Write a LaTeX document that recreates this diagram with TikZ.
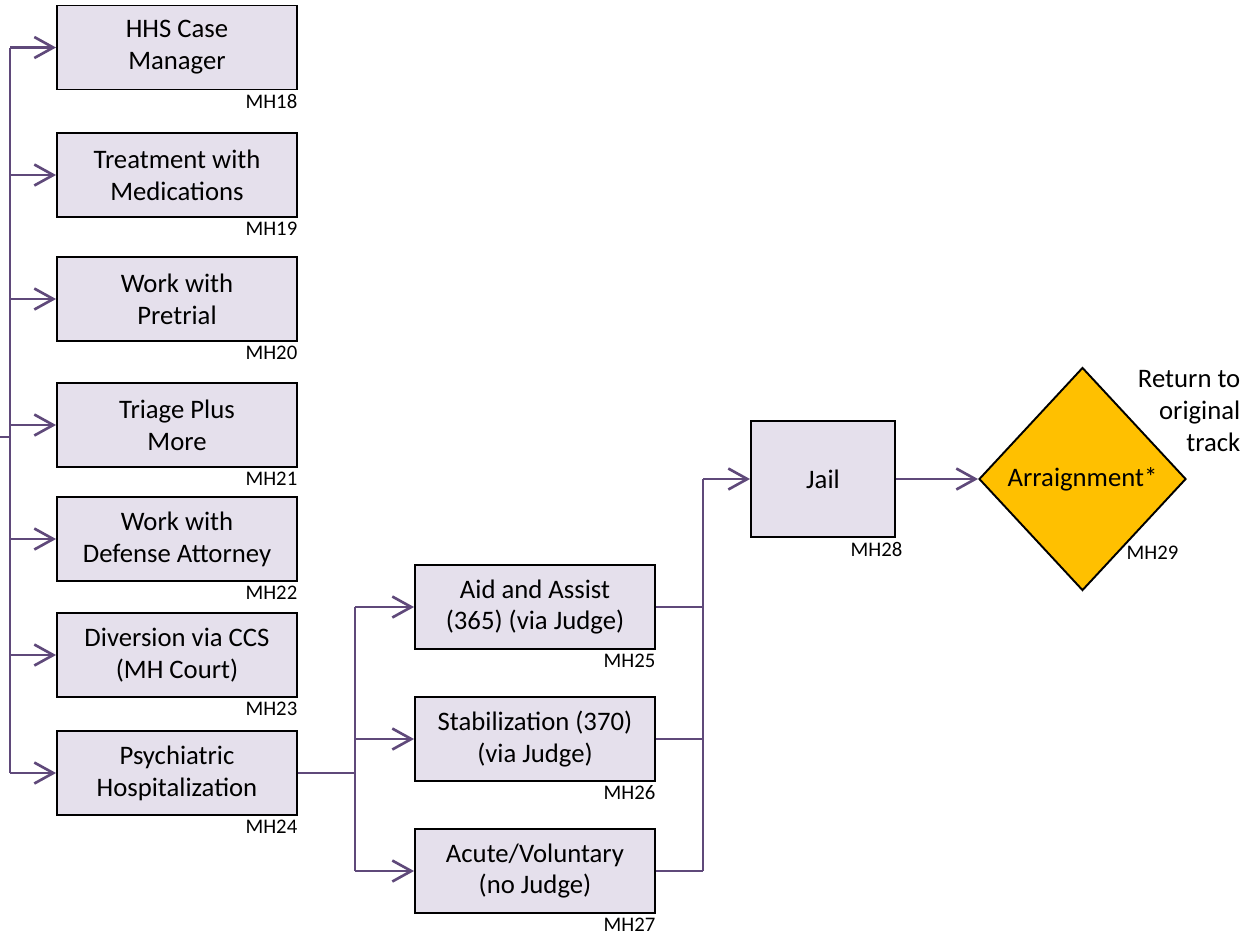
\documentclass[tikz,border=0pt]{standalone}
\usepackage{fontspec}
\setmainfont{Carlito}
\usetikzlibrary{arrows.meta,shapes.geometric}

\definecolor{flowpurple}{HTML}{5F497A}
\definecolor{boxfill}{HTML}{E5E0EC}
\definecolor{gold}{HTML}{FFC000}

\tikzset{
  stepbox/.style={draw=black,line width=0.55pt,fill=boxfill,minimum width=2.40cm,
    minimum height=0.84cm,align=center,inner sep=0pt,
    font=\fontsize{7.6}{9.1}\selectfont},
  tag/.style={anchor=north east,inner sep=0pt,font=\fontsize{5.9}{6.5}\selectfont},
  line/.style={draw=flowpurple,line width=0.75pt},
  flow/.style={line,-{Straight Barb[length=0.19cm,width=0.21cm,line width=0.75pt]}},
}

\begin{document}
\begin{tikzpicture}
  \useasboundingbox (0,0) rectangle (12.44,-9.37);

  %left column
  \node[stepbox] (hhs)       at (1.77,-0.475) {HHS Case\\Manager};
  \node[stepbox] (meds)      at (1.77,-1.75)  {Treatment with\\Medications};
  \node[stepbox] (pretrial)  at (1.77,-2.99)  {Work with\\Pretrial};
  \node[stepbox] (triage)    at (1.77,-4.25)  {Triage Plus\\More};
  \node[stepbox] (defense)   at (1.77,-5.39)  {Work with\\Defense Attorney};
  \node[stepbox] (diversion) at (1.77,-6.55)  {Diversion via CCS\\(MH Court)};
  \node[stepbox] (psych)     at (1.77,-7.73)  {Psychiatric\\Hospitalization};

  %middle column
  \node[stepbox] (aid)   at (5.35,-6.07) {Aid and Assist\\(365) (via Judge)};
  \node[stepbox] (stab)  at (5.35,-7.39) {Stabilization (370)\\(via Judge)};
  \node[stepbox] (acute) at (5.35,-8.71) {Acute/Voluntary\\(no Judge)};

  %right side
  \node[stepbox,minimum width=1.44cm,minimum height=1.16cm] (jail) at (8.23,-4.79) {Jail};
  \node[diamond,draw=black,line width=0.55pt,fill=gold,inner sep=0pt,
    minimum width=2.07cm,minimum height=2.23cm,
    font=\fontsize{7.6}{9.1}\selectfont] (arraign) at (10.825,-4.79) {Arraignment*};
  \node[anchor=north east,align=right,inner sep=0pt,
    font=\fontsize{7.6}{9.1}\selectfont] (note) at (12.41,-3.70) {Return to\\original\\track};

  %labels
  \node[tag] (t18) at ([yshift=-0.03cm]hhs.south east) {MH18};
  \node[tag] (t19) at ([yshift=-0.03cm]meds.south east) {MH19};
  \node[tag] (t20) at ([yshift=-0.03cm]pretrial.south east) {MH20};
  \node[tag] (t21) at ([yshift=-0.03cm]triage.south east) {MH21};
  \node[tag] (t22) at ([yshift=-0.03cm]defense.south east) {MH22};
  \node[tag] (t23) at ([yshift=-0.03cm]diversion.south east) {MH23};
  \node[tag] (t24) at ([yshift=-0.03cm]psych.south east) {MH24};
  \node[tag] (t25) at ([yshift=-0.03cm]aid.south east) {MH25};
  \node[tag] (t26) at ([yshift=-0.03cm]stab.south east) {MH26};
  \node[tag] (t27) at ([yshift=-0.03cm]acute.south east) {MH27};
  \node[tag] (t28) at ([xshift=0.07cm,yshift=-0.04cm]jail.south east) {MH28};
  \node[tag] (t29) at (11.79,-5.45) {MH29};

  %bus lines
  \coordinate (bus) at (0.10,0);
  \coordinate (split) at (3.55,0);
  \coordinate (merge) at (7.03,0);
  \coordinate (in) at (0,-4.37);

  \draw[line] (in) -- (in -| bus);
  \draw[line] (bus |- hhs.west) -- (bus |- psych.west);
  \foreach \b in {hhs,meds,pretrial,triage,defense,diversion,psych}
    \draw[flow] (bus |- \b.west) -- (\b.west);

  \draw[line] (psych.east) -- (split |- psych.east);
  \draw[line] (split |- aid.west) -- (split |- acute.west);
  \foreach \b in {aid,stab,acute}
    \draw[flow] (split |- \b.west) -- (\b.west);

  \foreach \b in {aid,stab,acute}
    \draw[line] (\b.east) -- (merge |- \b.east);
  \draw[line] (merge |- jail.west) -- (merge |- acute.east);
  \draw[flow] (merge |- jail.west) -- (jail.west);

  \draw[flow] (jail.east) -- (arraign.west);
\end{tikzpicture}
\end{document}
